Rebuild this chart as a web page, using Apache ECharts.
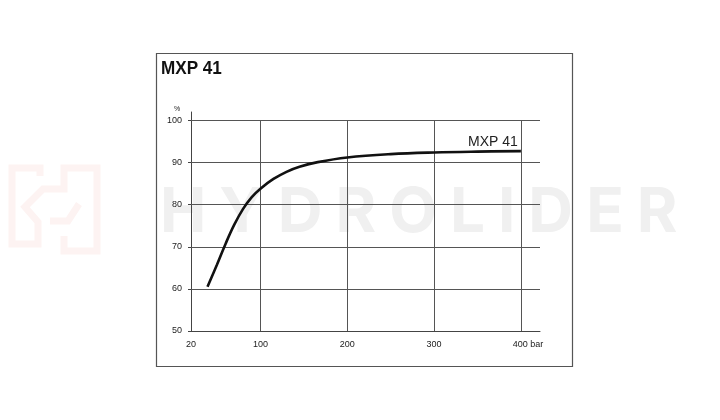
<!DOCTYPE html>
<html>
<head>
<meta charset="utf-8">
<script src="https://cdn.jsdelivr.net/npm/echarts@6/dist/echarts.min.js"></script>
<style>
html,body{margin:0;padding:0;background:#fff;}
#wm{position:absolute;left:160px;top:179px;font-family:Inter,'Noto Sans',sans-serif;font-weight:700;font-size:62px;line-height:62px;color:#f0f0f0;letter-spacing:13px;white-space:nowrap;}
#c{position:absolute;left:0;top:0;width:720px;height:420px;}
</style>
</head>
<body>
<div id="wm">HYDROLIDER</div>
<div id="c"></div>
<script>
const seriesName = 'MXP 41';
const titleText = 'MXP 41';
const yUnit = '%';
const pressure = [39, 50, 60, 70, 80, 90, 100, 115, 130, 145, 166, 200, 250, 300, 350, 400];
const efficiency = [60.5, 65.8, 70.8, 75.3, 79.0, 81.8, 83.8, 86.1, 87.8, 89.0, 90.1, 91.2, 92.0, 92.4, 92.6, 92.7];
const xTickLabels = [20, 100, 200, 300, 400];
const yTickLabels = [50, 60, 70, 80, 90, 100];
const xGridValues = [100, 200, 300, 400];
const yGridValues = [60, 70, 80, 90, 100];
const X_MIN = 20, X_MAX = 422;

const chart = echarts.init(document.getElementById('c'), null, {renderer: 'canvas'});
const FONT = "'Liberation Sans', Arial, sans-serif";
const last = pressure.length - 1;

const gridLines = [];
xGridValues.forEach(v => gridLines.push([{coord: [v, yTickLabels[0]]}, {coord: [v, yTickLabels[yTickLabels.length - 1]]}]));
yGridValues.forEach(v => gridLines.push([{coord: [X_MIN, v]}, {coord: [X_MAX, v]}]));

const logoStyle = {fill: 'none', stroke: '#fdf3f2', lineWidth: 7, lineJoin: 'miter'};

chart.setOption({
  backgroundColor: 'transparent',
  animation: false,
  grid: {left: 191, right: 180, top: 112, bottom: 89, containLabel: false, outerBoundsMode: 'none'},
  xAxis: {
    type: 'value', min: X_MIN, max: X_MAX,
    axisLine: {show: true, lineStyle: {color: '#444', width: 1}},
    axisTick: {show: false},
    splitLine: {show: false},
    axisLabel: {
      customValues: xTickLabels, margin: 9, color: '#222', fontFamily: FONT, fontSize: 9,
      formatter: v => v === 400 ? '{p|}400 bar' : String(v),
      rich: {p: {width: 14}}
    }
  },
  yAxis: {
    type: 'value', min: 50, max: 102, interval: 10,
    axisLine: {show: true, lineStyle: {color: '#444', width: 1}},
    axisTick: {show: true, customValues: yTickLabels, length: 3, lineStyle: {color: '#444'}},
    splitLine: {show: false},
    axisLabel: {customValues: yTickLabels, margin: 9, color: '#222', fontFamily: FONT, fontSize: 9}
  },
  series: [{
    name: seriesName,
    type: 'line',
    data: pressure.map((p, i) => [p, efficiency[i]]),
    smooth: 0.4,
    showSymbol: false,
    symbol: 'none',
    z: 3,
    lineStyle: {color: '#111', width: 2.6},
    markLine: {
      z: 1, silent: true, symbol: ['none', 'none'],
      label: {show: false},
      lineStyle: {color: '#555', width: 1, type: 'solid'},
      emphasis: {disabled: true},
      data: gridLines
    },
    markPoint: {
      silent: true,
      symbol: 'circle', symbolSize: 1,
      itemStyle: {color: 'rgba(0,0,0,0)'},
      label: {show: true, position: 'top', align: 'right', distance: 2, offset: [-3, 0],
              formatter: seriesName, color: '#222', fontFamily: FONT, fontSize: 14},
      data: [{coord: [pressure[last], efficiency[last]]}]
    }
  }],
  graphic: [
    {type: 'polyline', silent: true, z: -1, shape: {points: [[40,176],[40,168],[12,168],[12,244],[38,244],[38,222],[25,207],[43,189],[64,189],[64,168],[97,168],[97,251],[64,251],[64,236]]}, style: logoStyle},
    {type: 'polyline', silent: true, z: -1, shape: {points: [[79,204],[68,221],[50,221]]}, style: logoStyle},
    {type: 'rect', shape: {x: 156.5, y: 53.5, width: 416, height: 313}, style: {fill: 'none', stroke: '#555', lineWidth: 1.2}, z: 0},
    {type: 'text', x: 161, y: 59, scaleX: 0.9, originX: 0, style: {text: titleText, fontFamily: FONT, fontWeight: 'bold', fontSize: 19, fill: '#111', textVerticalAlign: 'top'}},
    {type: 'text', x: 177, y: 109, style: {text: yUnit, fontFamily: FONT, fontSize: 7, fill: '#222', textAlign: 'center', textVerticalAlign: 'middle'}}
  ]
});
</script>
</body>
</html>
